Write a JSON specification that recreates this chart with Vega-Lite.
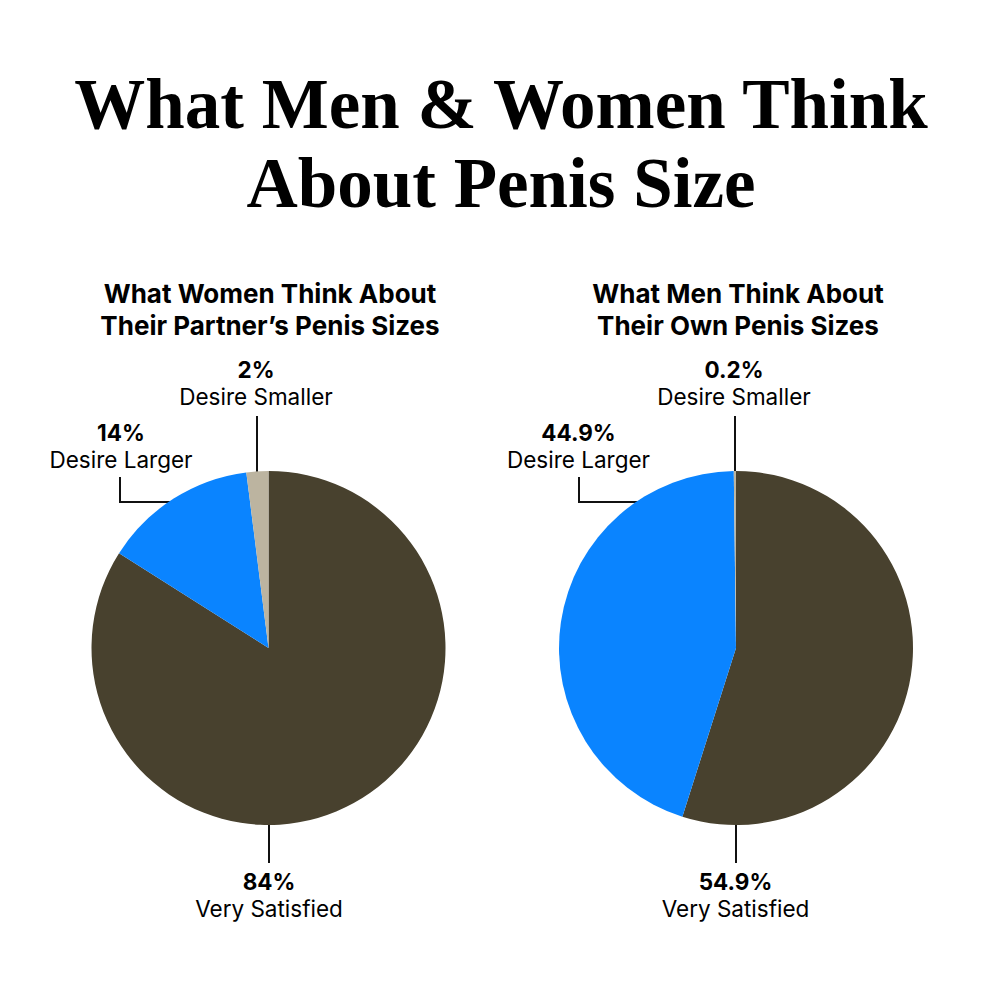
{
  "$schema": "https://vega.github.io/schema/vega-lite/v6.json",
  "width": 1000,
  "height": 1000,
  "autosize": {"type": "none"},
  "padding": 0,
  "background": "white",
  "config": {"view": {"stroke": null}},
  "datasets": {
    "slices": [
      {"chart": "Women", "category": "Very Satisfied", "pct": 84},
      {"chart": "Women", "category": "Desire Larger", "pct": 14},
      {"chart": "Women", "category": "Desire Smaller", "pct": 2},
      {"chart": "Men", "category": "Very Satisfied", "pct": 54.9},
      {"chart": "Men", "category": "Desire Larger", "pct": 44.9},
      {"chart": "Men", "category": "Desire Smaller", "pct": 0.2}
    ],
    "headings": [
      {"chart": "All", "heading": "What Men & Women Think\nAbout Penis Size"},
      {"chart": "Women", "heading": "What Women Think About\nTheir Partner’s Penis Sizes"},
      {"chart": "Men", "heading": "What Men Think About\nTheir Own Penis Sizes"}
    ]
  },
  "data": {"name": "slices"},
  "transform": [
    {"calculate": "indexof(['Very Satisfied','Desire Larger','Desire Smaller'], datum.category)", "as": "ord"},
    {"calculate": "datum.pct + '%'", "as": "pctLabel"}
  ],
  "layer": [
    {
      "data": {"name": "headings"},
      "transform": [{"filter": "datum.chart == 'All'"}],
      "mark": {"type": "text", "font": "Liberation Serif", "fontWeight": "bold", "fontSize": 71, "lineHeight": 79, "lineBreak": "\n", "align": "center", "baseline": "alphabetic", "color": "#000000"},
      "encoding": {
        "x": {"datum": 501, "type": "quantitative", "scale": {"domain": [0, 1000]}, "axis": null},
        "y": {"datum": 128, "type": "quantitative", "scale": {"domain": [0, 1000], "reverse": true}, "axis": null},
        "text": {"field": "heading"}
      }
    },
    {
      "data": {"name": "headings"},
      "transform": [{"filter": "datum.chart == 'Women'"}],
      "mark": {"type": "text", "font": "Inter", "fontWeight": "bold", "fontSize": 26, "lineHeight": 32, "lineBreak": "\n", "align": "center", "baseline": "alphabetic", "color": "#000000"},
      "encoding": {
        "x": {"datum": 270, "type": "quantitative", "scale": {"domain": [0, 1000]}, "axis": null},
        "y": {"datum": 303, "type": "quantitative", "scale": {"domain": [0, 1000], "reverse": true}, "axis": null},
        "text": {"field": "heading"}
      }
    },
    {
      "data": {"name": "headings"},
      "transform": [{"filter": "datum.chart == 'Men'"}],
      "mark": {"type": "text", "font": "Inter", "fontWeight": "bold", "fontSize": 26, "lineHeight": 32, "lineBreak": "\n", "align": "center", "baseline": "alphabetic", "color": "#000000"},
      "encoding": {
        "x": {"datum": 738, "type": "quantitative", "scale": {"domain": [0, 1000]}, "axis": null},
        "y": {"datum": 303, "type": "quantitative", "scale": {"domain": [0, 1000], "reverse": true}, "axis": null},
        "text": {"field": "heading"}
      }
    },
    {
      "mark": {"type": "rule", "strokeWidth": 2, "color": "#111111"},
      "encoding": {
        "x": {"datum": 257, "type": "quantitative", "scale": {"domain": [0, 1000]}, "axis": null},
        "y": {"datum": 416, "type": "quantitative", "scale": {"domain": [0, 1000], "reverse": true}, "axis": null},
        "y2": {"datum": 474}
      }
    },
    {
      "mark": {"type": "rule", "strokeWidth": 2, "color": "#111111"},
      "encoding": {
        "x": {"datum": 120, "type": "quantitative", "scale": {"domain": [0, 1000]}, "axis": null},
        "y": {"datum": 477, "type": "quantitative", "scale": {"domain": [0, 1000], "reverse": true}, "axis": null},
        "y2": {"datum": 503}
      }
    },
    {
      "mark": {"type": "rule", "strokeWidth": 2, "color": "#111111"},
      "encoding": {
        "x": {"datum": 119, "type": "quantitative", "scale": {"domain": [0, 1000]}, "axis": null},
        "x2": {"datum": 180},
        "y": {"datum": 502, "type": "quantitative", "scale": {"domain": [0, 1000], "reverse": true}, "axis": null}
      }
    },
    {
      "mark": {"type": "rule", "strokeWidth": 2, "color": "#111111"},
      "encoding": {
        "x": {"datum": 269, "type": "quantitative", "scale": {"domain": [0, 1000]}, "axis": null},
        "y": {"datum": 822, "type": "quantitative", "scale": {"domain": [0, 1000], "reverse": true}, "axis": null},
        "y2": {"datum": 863}
      }
    },
    {
      "mark": {"type": "rule", "strokeWidth": 2, "color": "#111111"},
      "encoding": {
        "x": {"datum": 735, "type": "quantitative", "scale": {"domain": [0, 1000]}, "axis": null},
        "y": {"datum": 416, "type": "quantitative", "scale": {"domain": [0, 1000], "reverse": true}, "axis": null},
        "y2": {"datum": 474}
      }
    },
    {
      "mark": {"type": "rule", "strokeWidth": 2, "color": "#111111"},
      "encoding": {
        "x": {"datum": 579, "type": "quantitative", "scale": {"domain": [0, 1000]}, "axis": null},
        "y": {"datum": 477, "type": "quantitative", "scale": {"domain": [0, 1000], "reverse": true}, "axis": null},
        "y2": {"datum": 503}
      }
    },
    {
      "mark": {"type": "rule", "strokeWidth": 2, "color": "#111111"},
      "encoding": {
        "x": {"datum": 578, "type": "quantitative", "scale": {"domain": [0, 1000]}, "axis": null},
        "x2": {"datum": 645},
        "y": {"datum": 502, "type": "quantitative", "scale": {"domain": [0, 1000], "reverse": true}, "axis": null}
      }
    },
    {
      "mark": {"type": "rule", "strokeWidth": 2, "color": "#111111"},
      "encoding": {
        "x": {"datum": 736, "type": "quantitative", "scale": {"domain": [0, 1000]}, "axis": null},
        "y": {"datum": 822, "type": "quantitative", "scale": {"domain": [0, 1000], "reverse": true}, "axis": null},
        "y2": {"datum": 863}
      }
    },
    {
      "transform": [{"filter": "datum.chart == 'Women'"}],
      "mark": {"type": "arc", "outerRadius": 177, "stroke": null},
      "encoding": {
        "x": {"datum": 268.5, "type": "quantitative", "scale": {"domain": [0, 1000]}, "axis": null},
        "y": {"datum": 648, "type": "quantitative", "scale": {"domain": [0, 1000], "reverse": true}, "axis": null},
        "theta": {"field": "pct", "type": "quantitative", "stack": true},
        "order": {"field": "ord", "type": "quantitative", "sort": "ascending"},
        "color": {"field": "category", "type": "nominal", "scale": {"domain": ["Very Satisfied", "Desire Larger", "Desire Smaller"], "range": ["#48412e", "#0a84ff", "#bcb4a0"]}, "legend": null}
      }
    },
    {
      "transform": [{"filter": "datum.chart == 'Men'"}],
      "mark": {"type": "arc", "outerRadius": 177, "stroke": null},
      "encoding": {
        "x": {"datum": 736, "type": "quantitative", "scale": {"domain": [0, 1000]}, "axis": null},
        "y": {"datum": 648, "type": "quantitative", "scale": {"domain": [0, 1000], "reverse": true}, "axis": null},
        "theta": {"field": "pct", "type": "quantitative", "stack": true},
        "order": {"field": "ord", "type": "quantitative", "sort": "ascending"},
        "color": {"field": "category", "type": "nominal", "scale": {"domain": ["Very Satisfied", "Desire Larger", "Desire Smaller"], "range": ["#48412e", "#0a84ff", "#bcb4a0"]}, "legend": null}
      }
    },
    {
      "transform": [{"filter": "datum.chart == 'Women' && datum.category == 'Desire Smaller'"}],
      "mark": {"type": "text", "font": "Inter", "fontWeight": "bold", "fontSize": 22.5, "align": "center", "baseline": "alphabetic", "color": "#000000"},
      "encoding": {
        "x": {"datum": 256, "type": "quantitative", "scale": {"domain": [0, 1000]}, "axis": null},
        "y": {"datum": 378, "type": "quantitative", "scale": {"domain": [0, 1000], "reverse": true}, "axis": null},
        "text": {"field": "pctLabel"}
      }
    },
    {
      "transform": [{"filter": "datum.chart == 'Women' && datum.category == 'Desire Smaller'"}],
      "mark": {"type": "text", "font": "Inter", "fontSize": 22.5, "align": "center", "baseline": "alphabetic", "color": "#000000"},
      "encoding": {
        "x": {"datum": 256, "type": "quantitative", "scale": {"domain": [0, 1000]}, "axis": null},
        "y": {"datum": 405, "type": "quantitative", "scale": {"domain": [0, 1000], "reverse": true}, "axis": null},
        "text": {"field": "category"}
      }
    },
    {
      "transform": [{"filter": "datum.chart == 'Women' && datum.category == 'Desire Larger'"}],
      "mark": {"type": "text", "font": "Inter", "fontWeight": "bold", "fontSize": 22.5, "align": "center", "baseline": "alphabetic", "color": "#000000"},
      "encoding": {
        "x": {"datum": 121, "type": "quantitative", "scale": {"domain": [0, 1000]}, "axis": null},
        "y": {"datum": 441, "type": "quantitative", "scale": {"domain": [0, 1000], "reverse": true}, "axis": null},
        "text": {"field": "pctLabel"}
      }
    },
    {
      "transform": [{"filter": "datum.chart == 'Women' && datum.category == 'Desire Larger'"}],
      "mark": {"type": "text", "font": "Inter", "fontSize": 22.5, "align": "center", "baseline": "alphabetic", "color": "#000000"},
      "encoding": {
        "x": {"datum": 121, "type": "quantitative", "scale": {"domain": [0, 1000]}, "axis": null},
        "y": {"datum": 468, "type": "quantitative", "scale": {"domain": [0, 1000], "reverse": true}, "axis": null},
        "text": {"field": "category"}
      }
    },
    {
      "transform": [{"filter": "datum.chart == 'Women' && datum.category == 'Very Satisfied'"}],
      "mark": {"type": "text", "font": "Inter", "fontWeight": "bold", "fontSize": 22.5, "align": "center", "baseline": "alphabetic", "color": "#000000"},
      "encoding": {
        "x": {"datum": 269, "type": "quantitative", "scale": {"domain": [0, 1000]}, "axis": null},
        "y": {"datum": 890, "type": "quantitative", "scale": {"domain": [0, 1000], "reverse": true}, "axis": null},
        "text": {"field": "pctLabel"}
      }
    },
    {
      "transform": [{"filter": "datum.chart == 'Women' && datum.category == 'Very Satisfied'"}],
      "mark": {"type": "text", "font": "Inter", "fontSize": 22.5, "align": "center", "baseline": "alphabetic", "color": "#000000"},
      "encoding": {
        "x": {"datum": 269, "type": "quantitative", "scale": {"domain": [0, 1000]}, "axis": null},
        "y": {"datum": 917, "type": "quantitative", "scale": {"domain": [0, 1000], "reverse": true}, "axis": null},
        "text": {"field": "category"}
      }
    },
    {
      "transform": [{"filter": "datum.chart == 'Men' && datum.category == 'Desire Smaller'"}],
      "mark": {"type": "text", "font": "Inter", "fontWeight": "bold", "fontSize": 22.5, "align": "center", "baseline": "alphabetic", "color": "#000000"},
      "encoding": {
        "x": {"datum": 734, "type": "quantitative", "scale": {"domain": [0, 1000]}, "axis": null},
        "y": {"datum": 378, "type": "quantitative", "scale": {"domain": [0, 1000], "reverse": true}, "axis": null},
        "text": {"field": "pctLabel"}
      }
    },
    {
      "transform": [{"filter": "datum.chart == 'Men' && datum.category == 'Desire Smaller'"}],
      "mark": {"type": "text", "font": "Inter", "fontSize": 22.5, "align": "center", "baseline": "alphabetic", "color": "#000000"},
      "encoding": {
        "x": {"datum": 734, "type": "quantitative", "scale": {"domain": [0, 1000]}, "axis": null},
        "y": {"datum": 405, "type": "quantitative", "scale": {"domain": [0, 1000], "reverse": true}, "axis": null},
        "text": {"field": "category"}
      }
    },
    {
      "transform": [{"filter": "datum.chart == 'Men' && datum.category == 'Desire Larger'"}],
      "mark": {"type": "text", "font": "Inter", "fontWeight": "bold", "fontSize": 22.5, "align": "center", "baseline": "alphabetic", "color": "#000000"},
      "encoding": {
        "x": {"datum": 578.5, "type": "quantitative", "scale": {"domain": [0, 1000]}, "axis": null},
        "y": {"datum": 441, "type": "quantitative", "scale": {"domain": [0, 1000], "reverse": true}, "axis": null},
        "text": {"field": "pctLabel"}
      }
    },
    {
      "transform": [{"filter": "datum.chart == 'Men' && datum.category == 'Desire Larger'"}],
      "mark": {"type": "text", "font": "Inter", "fontSize": 22.5, "align": "center", "baseline": "alphabetic", "color": "#000000"},
      "encoding": {
        "x": {"datum": 578.5, "type": "quantitative", "scale": {"domain": [0, 1000]}, "axis": null},
        "y": {"datum": 468, "type": "quantitative", "scale": {"domain": [0, 1000], "reverse": true}, "axis": null},
        "text": {"field": "category"}
      }
    },
    {
      "transform": [{"filter": "datum.chart == 'Men' && datum.category == 'Very Satisfied'"}],
      "mark": {"type": "text", "font": "Inter", "fontWeight": "bold", "fontSize": 22.5, "align": "center", "baseline": "alphabetic", "color": "#000000"},
      "encoding": {
        "x": {"datum": 735.5, "type": "quantitative", "scale": {"domain": [0, 1000]}, "axis": null},
        "y": {"datum": 890, "type": "quantitative", "scale": {"domain": [0, 1000], "reverse": true}, "axis": null},
        "text": {"field": "pctLabel"}
      }
    },
    {
      "transform": [{"filter": "datum.chart == 'Men' && datum.category == 'Very Satisfied'"}],
      "mark": {"type": "text", "font": "Inter", "fontSize": 22.5, "align": "center", "baseline": "alphabetic", "color": "#000000"},
      "encoding": {
        "x": {"datum": 735.5, "type": "quantitative", "scale": {"domain": [0, 1000]}, "axis": null},
        "y": {"datum": 917, "type": "quantitative", "scale": {"domain": [0, 1000], "reverse": true}, "axis": null},
        "text": {"field": "category"}
      }
    }
  ]
}
